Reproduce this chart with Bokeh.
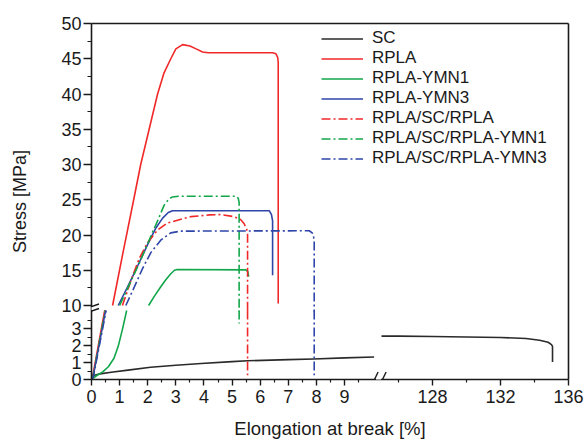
import math
from bokeh.plotting import figure
from bokeh.models import (Range1d, LinearAxis, FixedTicker, Legend, LegendItem, Arrow)
from bokeh.embed import file_html
from bokeh.resources import INLINE

nan = math.nan

# ---------------- data ----------------
# lower y section (0..4 MPa), left x section (0..10 %)
sc_lo_x = [0.0, 0.05, 0.3, 0.7, 1.3, 2.1, 3.0, 3.9, 5.0, 5.55, 7.0, 7.9, 9.0, 10.05]
sc_lo_y = [0.0, 0.22, 0.33, 0.43, 0.55, 0.72, 0.84, 0.94, 1.05, 1.1, 1.17, 1.21, 1.27, 1.32]
# lower y section, right x section (125..136 %)
sc_hi_x = [125.0, 126.0, 128.0, 130.0, 132.0, 133.5, 134.3, 134.8, 135.0, 135.06, 135.06]
sc_hi_y = [2.55, 2.55, 2.53, 2.5, 2.47, 2.41, 2.31, 2.19, 2.05, 1.95, 1.03]

rpla_lo_x = [0.0, 0.05, 0.47]
rpla_lo_y = [0.0, 0.25, 4.06]
rpla_up_x = [0.75, 1.12, 1.5, 1.75, 2.05, 2.35, 2.58, 2.82, 3.0, 3.24, 3.5, 3.72, 3.95,
             4.15, 6.44, 6.56, 6.62, 6.64, 6.64]
rpla_up_y = [10.0, 17.5, 25.0, 30.0, 35.0, 40.0, 43.0, 45.0, 46.4, 47.0, 46.8, 46.4, 45.95,
             45.85, 45.85, 45.7, 45.2, 44.5, 10.3]

ymn1_lo_x = [0.0, 0.2, 0.4, 0.6, 0.8, 0.95, 1.1, 1.25]
ymn1_lo_y = [0.0, 0.25, 0.45, 0.75, 1.25, 1.95, 2.95, 4.06]
ymn1_up_x = [2.03, 2.25, 2.47, 2.65, 2.82, 2.95, 3.05, 5.49, 5.56, 5.59]
ymn1_up_y = [10.0, 11.4, 12.7, 13.7, 14.5, 15.0, 15.1, 15.05, 14.8, 14.1]

ymn3_lo_x = [0.0, 0.06, 0.5]
ymn3_lo_y = [0.0, 0.2, 4.06]
ymn3_up_x = [0.95, 1.28, 1.64, 1.99, 2.29, 2.53, 2.73, 2.88, 3.2, 6.32, 6.4, 6.44, 6.44]
ymn3_up_y = [10.0, 12.6, 15.6, 18.6, 21.0, 22.4, 23.2, 23.45, 23.45, 23.45, 22.9, 22.0, 14.3]

scr_lo_x = [0.0, 0.06, 0.48, nan, 5.55, 5.55]
scr_lo_y = [0.0, 0.2, 4.06, nan, 4.06, 0.25]
scr_up_x = [1.1, 1.4, 1.69, 1.99, 2.35, 2.7, 3.06, 3.53, 4.19, 4.6, 5.07, 5.3, 5.43, 5.52,
            5.55, 5.55]
scr_up_y = [10.0, 13.5, 16.6, 18.9, 20.7, 21.7, 22.1, 22.6, 22.85, 22.9, 22.6, 22.2, 21.6,
            20.8, 20.2, 9.15]

scy1_lo_x = [0.0, 0.06, 0.49, nan, 5.25, 5.25]
scy1_lo_y = [0.0, 0.22, 4.06, nan, 4.06, 3.3]
scy1_up_x = [1.0, 1.35, 1.7, 2.0, 2.17, 2.35, 2.58, 2.75, 2.88, 3.1, 5.15, 5.22, 5.25, 5.25]
scy1_up_y = [10.0, 13.0, 16.0, 18.8, 20.4, 22.0, 24.2, 25.1, 25.4, 25.5, 25.5, 25.2, 24.6, 9.15]

scy3_lo_x = [0.0, 0.07, 0.52, nan, 7.92, 7.92]
scy3_lo_y = [0.0, 0.2, 4.06, nan, 4.06, 0.25]
scy3_up_x = [1.22, 1.52, 1.81, 2.11, 2.47, 2.82, 3.18, 7.74, 7.85, 7.9, 7.92, 7.92]
scy3_up_y = [10.0, 12.6, 15.2, 17.5, 19.3, 20.3, 20.55, 20.6, 20.3, 19.7, 19.0, 9.15]

labels = ["SC", "RPLA", "RPLA-YMN1", "RPLA-YMN3", "RPLA/SC/RPLA",
          "RPLA/SC/RPLA-YMN1", "RPLA/SC/RPLA-YMN3"]

# tick values
y_up_ticks = [10, 15, 20, 25, 30, 35, 40, 45, 50]
y_up_minor = [12.5, 17.5, 22.5, 27.5, 32.5, 37.5, 42.5, 47.5]
y_lo_ticks = [0, 1, 2, 3]
y_lo_minor = [0.5, 1.5, 2.5, 3.5]
x_lo_ticks = [0, 1, 2, 3, 4, 5, 6, 7, 8, 9]
x_lo_minor = [0.5, 1.5, 2.5, 3.5, 4.5, 5.5, 6.5, 7.5, 8.5, 9.5]
x_hi_ticks = [128, 132, 136]
x_hi_minor = [126, 130, 134]

# ---------------- layout / scales of the broken axes ----------------
FRAME_W, FRAME_H = 477, 356
PX_X_LEFT = 28.12      # px per % in left x section
PX_X_RIGHT = 17.0      # px per % in right x section
PX_Y_UP = 7.05         # px per MPa in upper y section
PX_Y_LOW = 17.0        # px per MPa in lower y section

x_main = Range1d(0, FRAME_W / PX_X_LEFT)
y_main = Range1d(50 - FRAME_H / PX_Y_UP, 50)
x_right = Range1d(136 - FRAME_W / PX_X_RIGHT, 136)
y_low = Range1d(0, FRAME_H / PX_Y_LOW)


def low_to_main(v):      # lower y section value -> main y coordinate (same pixel)
    return y_main.start + (v - y_low.start) * PX_Y_LOW / PX_Y_UP


def right_to_main(v):    # right x section value -> main x coordinate (same pixel)
    return x_main.end - (x_right.end - v) * PX_X_RIGHT / PX_X_LEFT


p = figure(frame_width=FRAME_W, frame_height=FRAME_H,
           min_border_left=91, min_border_right=18, min_border_top=23, min_border_bottom=63,
           x_range=x_main, y_range=y_main, x_axis_type=None, y_axis_type=None,
           toolbar_location=None, output_backend="svg", outline_line_color=None,
           background_fill_color="white", border_fill_color="white")
p.extra_x_ranges = {"right": x_right}
p.extra_y_ranges = {"low": y_low}

INK = "#1a1a1a"
FONT = "Liberation Sans"
RED, GREEN, BLUE, BLACK = "#f02828", "#12a64a", "#2f45a8", "#2a2a2a"
DD = "9 3 2 3"


def line(x, y, color, dash="solid", xr="default", yr="default"):
    return p.line(x, y, line_color=color, line_width=1.6, line_dash=dash,
                  line_join="round", x_range_name=xr, y_range_name=yr)


r_sc = line(sc_lo_x, sc_lo_y, BLACK, yr="low")
line(sc_hi_x, sc_hi_y, BLACK, xr="right", yr="low")
line(rpla_lo_x, rpla_lo_y, RED, yr="low")
r_rpla = line(rpla_up_x, rpla_up_y, RED)
line(ymn1_lo_x, ymn1_lo_y, GREEN, yr="low")
r_ymn1 = line(ymn1_up_x, ymn1_up_y, GREEN)
line(ymn3_lo_x, ymn3_lo_y, BLUE, yr="low")
r_ymn3 = line(ymn3_up_x, ymn3_up_y, BLUE)
line(scr_lo_x, scr_lo_y, RED, DD, yr="low")
r_scr = line(scr_up_x, scr_up_y, RED, DD)
line(scy1_lo_x, scy1_lo_y, GREEN, DD, yr="low")
r_scy1 = line(scy1_up_x, scy1_up_y, GREEN, DD)
line(scy3_lo_x, scy3_lo_y, BLUE, DD, yr="low")
r_scy3 = line(scy3_up_x, scy3_up_y, BLUE, DD)


def style(ax, maj, mnr):
    ax.axis_line_color = INK
    ax.axis_line_width = 1.6
    ax.major_tick_line_color = INK
    ax.major_tick_line_width = 1.4
    ax.minor_tick_line_color = INK
    ax.minor_tick_line_width = 1.2
    ax.major_tick_out = maj
    ax.major_tick_in = 0
    ax.minor_tick_out = mnr
    ax.minor_tick_in = 0
    ax.major_label_text_font = FONT
    ax.major_label_text_font_size = "18px"
    ax.major_label_text_color = INK
    ax.axis_label_text_font = FONT
    ax.axis_label_text_font_style = "normal"
    ax.axis_label_text_color = INK


# left axis: both y sections on one axis
y_ticks = [low_to_main(v) for v in y_lo_ticks] + [float(v) for v in y_up_ticks]
y_minor = [low_to_main(v) for v in y_lo_minor] + [float(v) for v in y_up_minor]
y_over = {t: str(v) for t, v in zip(y_ticks, y_lo_ticks + y_up_ticks)}
ax_y = LinearAxis(ticker=FixedTicker(ticks=y_ticks, minor_ticks=y_minor),
                  major_label_overrides=y_over, major_label_standoff=2,
                  axis_label="Stress [MPa]", axis_label_standoff=28)
style(ax_y, 8, 4)
ax_y.axis_label_text_font_size = "18px"
p.add_layout(ax_y, "left")

# bottom axis: both x sections on one axis
x_ticks = [float(v) for v in x_lo_ticks] + [right_to_main(v) for v in x_hi_ticks]
x_minor = [float(v) for v in x_lo_minor] + [right_to_main(v) for v in x_hi_minor]
x_over = {t: str(v) for t, v in zip(x_ticks, x_lo_ticks + x_hi_ticks)}
ax_x = LinearAxis(ticker=FixedTicker(ticks=x_ticks, minor_ticks=x_minor),
                  major_label_overrides=x_over, major_label_standoff=4,
                  axis_label="Elongation at break [%]", axis_label_standoff=12)
style(ax_x, 6, 3)
ax_x.axis_label_text_font_size = "18.5px"
p.add_layout(ax_x, "below")

for side in ("above", "right"):
    a = LinearAxis(ticker=FixedTicker(ticks=[]), major_tick_line_color=None,
                   minor_tick_line_color=None, major_label_text_font_size="0px",
                   major_tick_out=0, minor_tick_out=0,
                   axis_line_color=INK, axis_line_width=1.6)
    p.add_layout(a, side)


# ---- axis-break decorations (gap in the axis line + two slanted marks) ----
def px_low(py):          # pixel row (from frame bottom, downward positive) -> lower-section value
    return -py / PX_Y_LOW


def px_x(px):            # pixel offset from frame left -> main x value
    return px / PX_X_LEFT


# y axis break: around 70-73 px above the frame bottom
p.add_layout(Arrow(end=None, x_start=0, x_end=0, y_start=px_low(-69.5), y_end=px_low(-72.5),
                   y_range_name="low", line_color="white", line_width=4))
for c in (68.5, 73.0):
    p.add_layout(Arrow(end=None, x_start=px_x(-7.5), x_end=px_x(7.5),
                       y_start=px_low(-(c - 2.5)), y_end=px_low(-(c + 2.5)),
                       y_range_name="low", line_color=INK, line_width=1.4))
# x axis break: around 283-291 px right of the frame left
p.add_layout(Arrow(end=None, x_start=px_x(284.5), x_end=px_x(289.5), y_start=0, y_end=0,
                   y_range_name="low", line_color="white", line_width=4))
for c in (283.0, 291.0):
    p.add_layout(Arrow(end=None, x_start=px_x(c - 3.6), x_end=px_x(c + 3.6),
                       y_start=px_low(7.5), y_end=px_low(-7.5),
                       y_range_name="low", line_color=INK, line_width=1.4))

legend = Legend(items=[LegendItem(label=l, renderers=[r]) for l, r in
                       zip(labels, [r_sc, r_rpla, r_ymn1, r_ymn3, r_scr, r_scy1, r_scy3])],
                location=(230, 211), border_line_color=None, background_fill_alpha=0,
                label_text_font=FONT, label_text_font_size="17px", label_text_color=INK,
                glyph_width=42, glyph_height=19, label_height=19, spacing=0, padding=0,
                margin=0, label_standoff=9, label_text_line_height=1.0)
p.add_layout(legend)

open("out.html", "w").write(file_html(p, INLINE))
